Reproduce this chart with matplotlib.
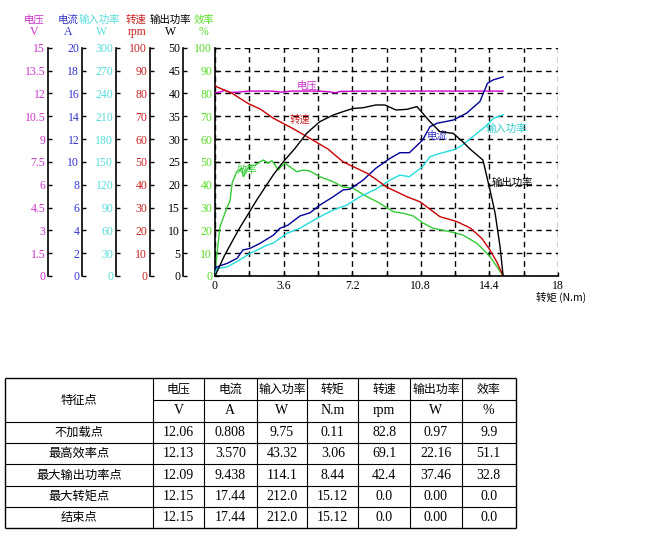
import numpy as np
import matplotlib
matplotlib.use("Agg")
import matplotlib.pyplot as plt
from matplotlib.ticker import MultipleLocator, FuncFormatter

CJK = ['Noto Sans CJK SC', 'DejaVu Sans']
SERIF = ['Liberation Serif', 'DejaVu Serif']

# ---- curve data (torque in N.m) ----
t_volt = [0, 0.3, 0.5, 0.8, 1.2, 1.75, 3.0, 3.5, 4.0, 5.5, 6.0, 6.3, 6.6, 8.0, 10.0, 12.0, 14.0, 15.12]
volt = [12.03, 12.1, 12.2, 12.06, 12.08, 12.15, 12.15, 12.08, 12.15, 12.15, 12.1, 12.04, 12.13,
        12.15, 12.15, 12.15, 12.15, 12.15]

t_cur = [0, 0.11, 0.63, 1.15, 1.47, 1.84, 2.36, 3.06, 3.41, 3.83, 4.46, 4.99, 5.51, 6.2, 6.72,
         7.08, 7.77, 8.44, 9.18, 9.7, 10.2, 10.9, 11.28, 11.65, 12.5, 13.2, 13.9, 14.3, 14.6, 15.12]
current = [0.52, 0.808, 1.1, 1.54, 2.28, 2.42, 2.86, 3.57, 4.18, 4.46, 5.26, 5.54, 6.22, 6.94, 7.54,
           7.6, 8.4, 9.438, 10.3, 10.8, 10.8, 11.92, 13.08, 13.38, 13.66, 14.26, 15.28, 16.88, 17.18, 17.44]

t_pin = [0, 0.11, 0.63, 1.15, 1.84, 2.73, 3.06, 3.78, 4.46, 5.35, 6.2, 6.93, 7.6, 8.44, 9.18, 9.7,
         10.2, 10.9, 11.28, 11.8, 12.5, 12.86, 13.2, 13.75, 14.27, 14.6, 15.12]
p_in = [3.6, 9.75, 12, 18.9, 29.7, 40.5, 43.32, 56.1, 62.7, 75.9, 86.7, 93.3, 104.1, 114.1, 126,
        132.6, 130.5, 143.7, 156.9, 161.1, 165.6, 169.8, 176.4, 187.5, 198.3, 207, 212.0]

t_rpm = [0, 0.11, 0.9, 1.73, 2.4, 3.06, 4.0, 4.83, 5.93, 6.72, 7.98, 8.44, 9.0, 10.08, 10.76,
         11.8, 12.7, 13.4, 14.0, 14.43, 14.8, 15.12]
speed = [83.5, 82.8, 80, 75.6, 73, 69.1, 65, 61, 55.6, 50, 45, 42.4, 39, 34.7, 32.5,
         26, 23.8, 21, 16.5, 11.4, 6, 0]

t_pout = [0, 0.11, 0.5, 1.22, 2.19, 3.06, 3.58, 4.2, 4.81, 5.5, 6.2, 6.72, 7.25, 7.77, 8.44, 8.92,
          9.5, 10.06, 10.6, 11.28, 11.8, 12.5, 13.0, 13.4, 14.06, 14.43, 14.7, 14.96, 15.12]
p_out = [0, 0.97, 4.5, 10, 16.65, 22.16, 25, 27.95, 31.25, 33.8, 35.25, 36, 36.7, 36.85, 37.46, 37.45,
         36.35, 36.5, 37.1, 33.8, 31.6, 31.25, 29.4, 27.75, 25.4, 18.85, 13.75, 6.4, 0]

t_eff = [0, 0.05, 0.26, 0.63, 0.79, 0.9, 1.14, 1.4, 1.49, 1.66, 1.8, 2.1, 2.36, 2.54, 2.8, 2.98,
         3.15, 3.32, 3.5, 3.67, 4.29, 4.63, 4.98, 5.5, 6.2, 6.72, 7.25, 7.98, 8.44, 8.66, 9.35,
         9.87, 10.4, 10.9, 11.45, 12.33, 13.0, 13.75, 14.43, 14.8, 15.12]
eff = [0, 5.7, 21.6, 30, 33, 40.7, 45.7, 47.2, 43.5, 46.4, 48.2, 48.5, 50, 50.8, 49.4, 50.5,
       48.6, 46.4, 48.2, 49.4, 45.7, 46.4, 46, 43.5, 41.3, 39, 38.4, 34.7, 32.8, 31.8, 28.2,
       27.5, 26.3, 23.3, 20.9, 19.4, 18, 14.3, 8.5, 4, 0]

# ---- table data ----
col_names = ['电压', '电流', '输入功率', '转矩', '转速', '输出功率', '效率']
col_units = ['V', 'A', 'W', 'N.m', 'rpm', 'W', '%']
row_names = ['不加载点', '最高效率点', '最大输出功率点', '最大转矩点', '结束点']
table_vals = [
    ['12.06', '0.808', '9.75', '0.11', '82.8', '0.97', '9.9'],
    ['12.13', '3.570', '43.32', '3.06', '69.1', '22.16', '51.1'],
    ['12.09', '9.438', '114.1', '8.44', '42.4', '37.46', '32.8'],
    ['12.15', '17.44', '212.0', '15.12', '0.0', '0.00', '0.0'],
    ['12.15', '17.44', '212.0', '15.12', '0.0', '0.00', '0.0'],
]

W, H = 663, 543
fig = plt.figure(figsize=(W / 100, H / 100), dpi=100)


def fx(px):
    return px / W


def fy(py):
    return 1 - py / H


# main axes (efficiency)
left, right, top, bottom = 215, 558, 47.7, 276
ax = fig.add_axes([fx(left), fy(bottom), (right - left) / W, (bottom - top) / H])
ax.set_xlim(0, 18)
ax.set_ylim(0, 100)
for s in ['top', 'right']:
    ax.spines[s].set_visible(False)
for s in ['left', 'bottom']:
    ax.spines[s].set_linewidth(1.2)
ax.xaxis.set_major_locator(MultipleLocator(3.6))
ax.xaxis.set_minor_locator(MultipleLocator(1.8))
ax.xaxis.set_major_formatter(FuncFormatter(lambda v, p: '%g' % round(v, 1)))
ax.yaxis.set_major_locator(MultipleLocator(10))
ax.grid(True, which='both', axis='x', color='black', linestyle=(0, (4, 3)), linewidth=1)
ax.grid(True, which='major', axis='y', color='black', linestyle=(0, (4, 3)), linewidth=1)
ax.tick_params(axis='both', which='both', direction='in', length=3, width=1, pad=2,
               labelsize=8.5)
ax.tick_params(axis='x', pad=3)
for lab in ax.get_xticklabels() + ax.get_yticklabels():
    lab.set_fontfamily(SERIF)
for lab in ax.get_yticklabels():
    lab.set_color('#55dd22')

eff_color = '#33cc33'
ax.plot(t_eff, eff, color=eff_color, lw=1)

# extra axes: (name, unit, top value, step, spine px, label color, line color, t, y)
extra = [
    ('电压', 'V', 15, 1.5, 48, '#cc33cc', '#cc00cc', t_volt, volt),
    ('电流', 'A', 20, 2, 82, '#3333cc', '#000099', t_cur, current),
    ('输入功率', 'W', 300, 30, 116, '#55dddd', '#22dddd', t_pin, p_in),
    ('转速', 'rpm', 100, 10, 150, '#cc2222', '#cc0000', t_rpm, speed),
    ('输出功率', 'W', 50, 5, 183, '#000000', '#000000', t_pout, p_out),
]
for name, unit, ymax, step, px, tcol, lcol, tx, ty in extra:
    a = ax.twinx()
    a.set_ylim(0, ymax)
    a.spines['left'].set_position(('axes', (px - left) / (right - left)))
    a.spines['left'].set_visible(True)
    a.spines['left'].set_linewidth(1.2)
    for s in ['right', 'top', 'bottom']:
        a.spines[s].set_visible(False)
    a.yaxis.set_ticks_position('left')
    a.yaxis.set_major_locator(MultipleLocator(step))
    a.yaxis.set_major_formatter(FuncFormatter(lambda v, p: '%g' % round(v, 2)))
    a.tick_params(axis='y', direction='in', length=3, width=1, pad=2, labelsize=8.5,
                  labelcolor=tcol)
    for lab in a.get_yticklabels():
        lab.set_fontfamily(SERIF)
    a.plot(tx, ty, color=lcol, lw=1)

# header labels above the axes
headers = [('电压', 'V', 34, 34, '#cc33cc'), ('电流', 'A', 68, 68, '#3333cc'),
           ('输入功率', 'W', 99, 102, '#55dddd'), ('转速', 'rpm', 136, 137, '#cc2222'),
           ('输出功率', 'W', 170, 171, '#000000'), ('效率', '%', 204, 203, '#55dd22')]
for name, unit, x1, x2, c in headers:
    fig.text(fx(x1), fy(20), name, ha='center', va='center', fontsize=7.5, color=c, family=CJK)
    fig.text(fx(x2), fy(32), unit, ha='center', va='center', fontsize=8.5, color=c, family=SERIF)

fig.text(fx(536), fy(297.5), '转矩 (N.m)', ha='left', va='center', fontsize=7.5, family=CJK)

# curve labels
curve_labels = [('电压', 4.83, 83.2, '#cc33cc'), ('转速', 4.46, 68.3, '#cc2222'),
                ('电流', 11.65, 61.3, '#3333cc'), ('输入功率', 15.3, 64.4, '#33cccc'),
                ('输出功率', 15.6, 40.7, '#000000'), ('效率', 1.7, 46.4, '#33cc33')]
for txt, xv, yv, c in curve_labels:
    ax.text(xv, yv, txt, ha='center', va='center', fontsize=7.5, color=c, family=CJK,
            zorder=10)

# ---- table ----
cols = [5, 152.7, 204, 256.7, 307.3, 358.3, 410, 461.7, 515.7]
rows = [378.3, 400, 421.7, 442.7, 464.3, 486, 507.3, 528.3]
tax = fig.add_axes([0, 0, 1, 1])
tax.set_xlim(0, W)
tax.set_ylim(H, 0)
tax.axis('off')
lc = 'black'
tax.hlines([rows[0], rows[-1]], cols[0], cols[-1], color=lc, lw=1)
tax.hlines(rows[2:-1], cols[0], cols[-1], color=lc, lw=0.8)
tax.hlines(rows[1], cols[1], cols[-1], color=lc, lw=0.8)
tax.vlines([cols[0], cols[-1]], rows[0], rows[-1], color=lc, lw=1)
tax.vlines(cols[1:-1], rows[0], rows[-1], color=lc, lw=0.8)

tax.text((cols[0] + cols[1]) / 2, rows[1], '特征点', ha='center', va='center',
         fontsize=8.8, family=CJK)
for j in range(len(col_names)):
    cx = (cols[j + 1] + cols[j + 2]) / 2
    tax.text(cx, (rows[0] + rows[1]) / 2, col_names[j], ha='center', va='center',
             fontsize=8.6, family=CJK)
    tax.text(cx, (rows[1] + rows[2]) / 2, col_units[j], ha='center', va='center',
             fontsize=10, family=SERIF)
for i, rn in enumerate(row_names):
    cy = (rows[i + 2] + rows[i + 3]) / 2
    tax.text((cols[0] + cols[1]) / 2, cy, rn, ha='center', va='center', fontsize=8.8,
             family=CJK)
    for j, v in enumerate(table_vals[i]):
        cx = (cols[j + 1] + cols[j + 2]) / 2
        tax.text(cx, cy, v, ha='center', va='center', fontsize=10, family=SERIF)

fig.savefig('out.png', dpi=100)
